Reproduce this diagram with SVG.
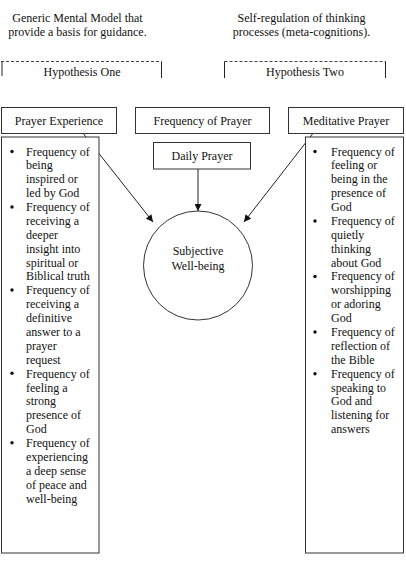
<svg xmlns="http://www.w3.org/2000/svg" width="406" height="568" viewBox="0 0 406 568">
<style>
text{font-family:"Liberation Serif","Times New Roman",serif;font-size:12px;fill:#111}
.c{text-anchor:middle}
.box{fill:#fff;stroke:#333;stroke-width:1}
.ln{stroke:#222;stroke-width:1;fill:none}
.dash{stroke:#444;stroke-width:1;stroke-dasharray:3,2;fill:none}
.bul{fill:#111}
</style>
<defs>
<marker id="ah" viewBox="0 0 10 10" refX="10" refY="5" markerWidth="9" markerHeight="7" markerUnits="userSpaceOnUse" orient="auto">
<path d="M0,0 L10,5 L0,10 z" fill="#111"/>
</marker>
</defs>

<g id="header-left">
<text class="c" x="77.5" y="22.3">Generic Mental Model that</text>
<text class="c" x="77.5" y="36.3">provide a basis for guidance.</text>
</g>
<g id="header-right">
<text class="c" x="301.5" y="22.3">Self-regulation of thinking</text>
<text class="c" x="301.5" y="36.3">processes (meta-cognitions).</text>
</g>

<g id="hypothesis-one">
<path class="dash" d="M1,61.5 H161.5"/>
<path class="ln" d="M2,61.5 V76 M161.5,61.5 V78"/>
<text class="c" x="82" y="76">Hypothesis One</text>
</g>
<g id="hypothesis-two">
<path class="dash" d="M224.5,61.5 H385.5"/>
<path class="ln" d="M224.5,61.5 V78 M385.5,61.5 V78"/>
<text class="c" x="305" y="76">Hypothesis Two</text>
</g>

<g id="connectors">
<line class="ln" x1="82" y1="132" x2="153" y2="222" marker-end="url(#ah)"/>
<line class="ln" x1="314" y1="132" x2="244" y2="222" marker-end="url(#ah)"/>
<line class="ln" x1="198" y1="169" x2="198" y2="211" marker-end="url(#ah)"/>
</g>

<g id="prayer-experience">
<rect class="box" x="1.5" y="107.5" width="115" height="26"/>
<text class="c" x="59" y="124.5">Prayer Experience</text>
</g>
<g id="frequency-of-prayer">
<rect class="box" x="135.5" y="107.5" width="134" height="26"/>
<text class="c" x="202.5" y="124.5">Frequency of Prayer</text>
</g>
<g id="meditative-prayer">
<rect class="box" x="288.5" y="107.5" width="115" height="26"/>
<text class="c" x="346" y="124.5">Meditative Prayer</text>
</g>
<g id="daily-prayer">
<rect class="box" x="153.5" y="142.5" width="97" height="26.5"/>
<text class="c" x="202" y="159.8">Daily Prayer</text>
</g>

<g id="subjective-well-being">
<circle class="box" cx="198" cy="265.5" r="54.5"/>
<text class="c" x="198" y="254.8">Subjective</text>
<text class="c" x="198" y="269.5">Well-being</text>
</g>

<g id="prayer-experience-list">
<rect class="box" x="1.5" y="137" width="97.5" height="416"/>
<circle class="bul" cx="12" cy="151.5" r="1.7"/>
<circle class="bul" cx="12" cy="207" r="1.7"/>
<circle class="bul" cx="12" cy="290" r="1.7"/>
<circle class="bul" cx="12" cy="373.3" r="1.7"/>
<circle class="bul" cx="12" cy="442.7" r="1.7"/>
<text x="26" y="155.5">Frequency of</text>
<text x="26" y="169.4">being</text>
<text x="26" y="183.3">inspired or</text>
<text x="26" y="197.1">led by God</text>
<text x="26" y="211">Frequency of</text>
<text x="26" y="224.9">receiving a</text>
<text x="26" y="238.8">deeper</text>
<text x="26" y="252.7">insight into</text>
<text x="26" y="266.5">spiritual or</text>
<text x="26" y="280.4">Biblical truth</text>
<text x="26" y="294.3">Frequency of</text>
<text x="26" y="308.2">receiving a</text>
<text x="26" y="322.1">definitive</text>
<text x="26" y="335.9">answer to a</text>
<text x="26" y="349.8">prayer</text>
<text x="26" y="363.7">request</text>
<text x="26" y="377.6">Frequency of</text>
<text x="26" y="391.5">feeling a</text>
<text x="26" y="405.3">strong</text>
<text x="26" y="419.2">presence of</text>
<text x="26" y="433.1">God</text>
<text x="26" y="447">Frequency of</text>
<text x="26" y="460.9">experiencing</text>
<text x="26" y="474.7">a deep sense</text>
<text x="26" y="488.6">of peace and</text>
<text x="26" y="502.5">well-being</text>
</g>

<g id="meditative-prayer-list">
<rect class="box" x="305.5" y="137" width="98" height="416"/>
<circle class="bul" cx="315" cy="151.5" r="1.7"/>
<circle class="bul" cx="315" cy="221" r="1.7"/>
<circle class="bul" cx="315" cy="276.5" r="1.7"/>
<circle class="bul" cx="315" cy="332" r="1.7"/>
<circle class="bul" cx="315" cy="373.7" r="1.7"/>
<text x="331" y="155.5">Frequency of</text>
<text x="331" y="169.4">feeling or</text>
<text x="331" y="183.3">being in the</text>
<text x="331" y="197.1">presence of</text>
<text x="331" y="211">God</text>
<text x="331" y="224.9">Frequency of</text>
<text x="331" y="238.8">quietly</text>
<text x="331" y="252.7">thinking</text>
<text x="331" y="266.5">about God</text>
<text x="331" y="280.4">Frequency of</text>
<text x="331" y="294.3">worshipping</text>
<text x="331" y="308.2">or adoring</text>
<text x="331" y="322.1">God</text>
<text x="331" y="335.9">Frequency of</text>
<text x="331" y="349.8">reflection of</text>
<text x="331" y="363.7">the Bible</text>
<text x="331" y="377.6">Frequency of</text>
<text x="331" y="391.5">speaking to</text>
<text x="331" y="405.3">God and</text>
<text x="331" y="419.2">listening for</text>
<text x="331" y="433.1">answers</text>
</g>
</svg>
